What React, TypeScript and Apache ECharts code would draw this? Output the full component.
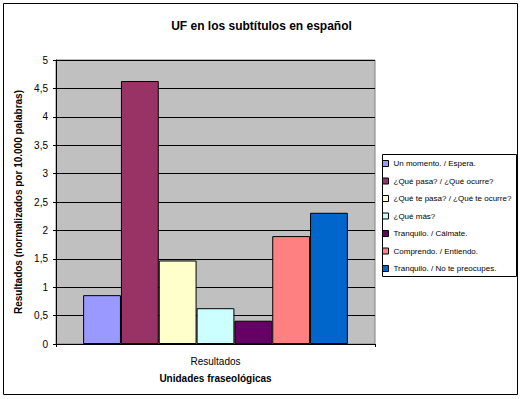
import React, { useEffect, useRef } from "react";
import * as echarts from "echarts";

const categories = ["Resultados"];
const seriesNames = [
  "Un momento. / Espera.",
  "¿Qué pasa? / ¿Qué ocurre?",
  "¿Qué te pasa? / ¿Qué te ocurre?",
  "¿Qué más?",
  "Tranquilo. / Cálmate.",
  "Comprendo. / Entiendo.",
  "Tranquilo. / No te preocupes.",
];
const seriesValues = [0.86, 4.63, 1.47, 0.63, 0.41, 1.9, 2.31];
const seriesColors = ["#9999FF", "#993366", "#FFFFCC", "#CCFFFF", "#660066", "#FF8080", "#0066CC"];

const FONT = "'Liberation Sans', Arial, sans-serif";

export default function App() {
  const ref = useRef<HTMLDivElement>(null);
  useEffect(() => {
    document.body.style.margin = "0";
    const chart = echarts.init(ref.current!, null, { renderer: "svg" });
    chart.setOption({
      animation: false,
      backgroundColor: "#FFFFFF",
      textStyle: { fontFamily: FONT },
      title: {
        text: "UF en los subtítulos en español",
        left: "center",
        top: 15,
        textStyle: { fontSize: 12, fontWeight: "bold", color: "#000", fontFamily: FONT },
      },
      grid: {
        left: 56,
        right: 148,
        top: 60,
        bottom: 55,
        show: true,
        backgroundColor: "#C0C0C0",
        borderColor: "#808080",
        borderWidth: 1,
      },
      legend: {
        orient: "vertical",
        left: 382,
        top: 159,
        padding: 0,
        itemWidth: 6,
        itemHeight: 6,
        itemGap: 8.5,
        icon: "rect",
        itemStyle: { borderColor: "#000", borderWidth: 1 },
        textStyle: { fontSize: 8, color: "#000", fontFamily: FONT, lineHeight: 9 },
        data: seriesNames,
      },
      xAxis: {
        type: "category",
        data: categories,
        axisLine: { show: true, lineStyle: { color: "#000", width: 1 } },
        axisTick: { show: true, length: 3, lineStyle: { color: "#000" } },
        axisLabel: { fontSize: 10, color: "#000", margin: 12, fontFamily: FONT },
        name: "Unidades fraseológicas",
        nameLocation: "middle",
        nameGap: 29,
        nameTextStyle: { fontSize: 10, fontWeight: "bold", color: "#000", fontFamily: FONT },
      },
      yAxis: {
        type: "value",
        min: 0,
        max: 5,
        interval: 0.5,
        axisLine: { show: true, lineStyle: { color: "#000", width: 1 } },
        axisTick: { show: true, length: 3, lineStyle: { color: "#000" } },
        axisLabel: {
          fontSize: 10,
          color: "#000",
          margin: 8,
          fontFamily: FONT,
          formatter: (v: number) => String(v).replace(".", ","),
        },
        splitLine: { show: true, lineStyle: { color: "#000", width: 1 } },
        name: "Resultados (normalizados por 10.000 palabras)",
        nameLocation: "middle",
        nameGap: 30,
        nameTextStyle: { fontSize: 10, fontWeight: "bold", color: "#000", fontFamily: FONT },
      },
      series: seriesNames.map((name, i) => ({
        type: "bar",
        name,
        data: [seriesValues[i]],
        barGap: "0%",
        barCategoryGap: "17%",
        itemStyle: { color: seriesColors[i], borderColor: "#000", borderWidth: 1 },
      })),
      graphic: [
        {
          type: "rect",
          shape: { x: 3.5, y: 3.5, width: 514, height: 391 },
          style: { fill: "none", stroke: "#000", lineWidth: 1 },
          silent: true,
        },
        {
          type: "rect",
          shape: { x: 382.5, y: 154.5, width: 134, height: 122 },
          style: { fill: "none", stroke: "#000", lineWidth: 1 },
          silent: true,
        },
      ],
    });
    return () => chart.dispose();
  }, []);
  return <div ref={ref} style={{ width: 523, height: 399 }} />;
}
